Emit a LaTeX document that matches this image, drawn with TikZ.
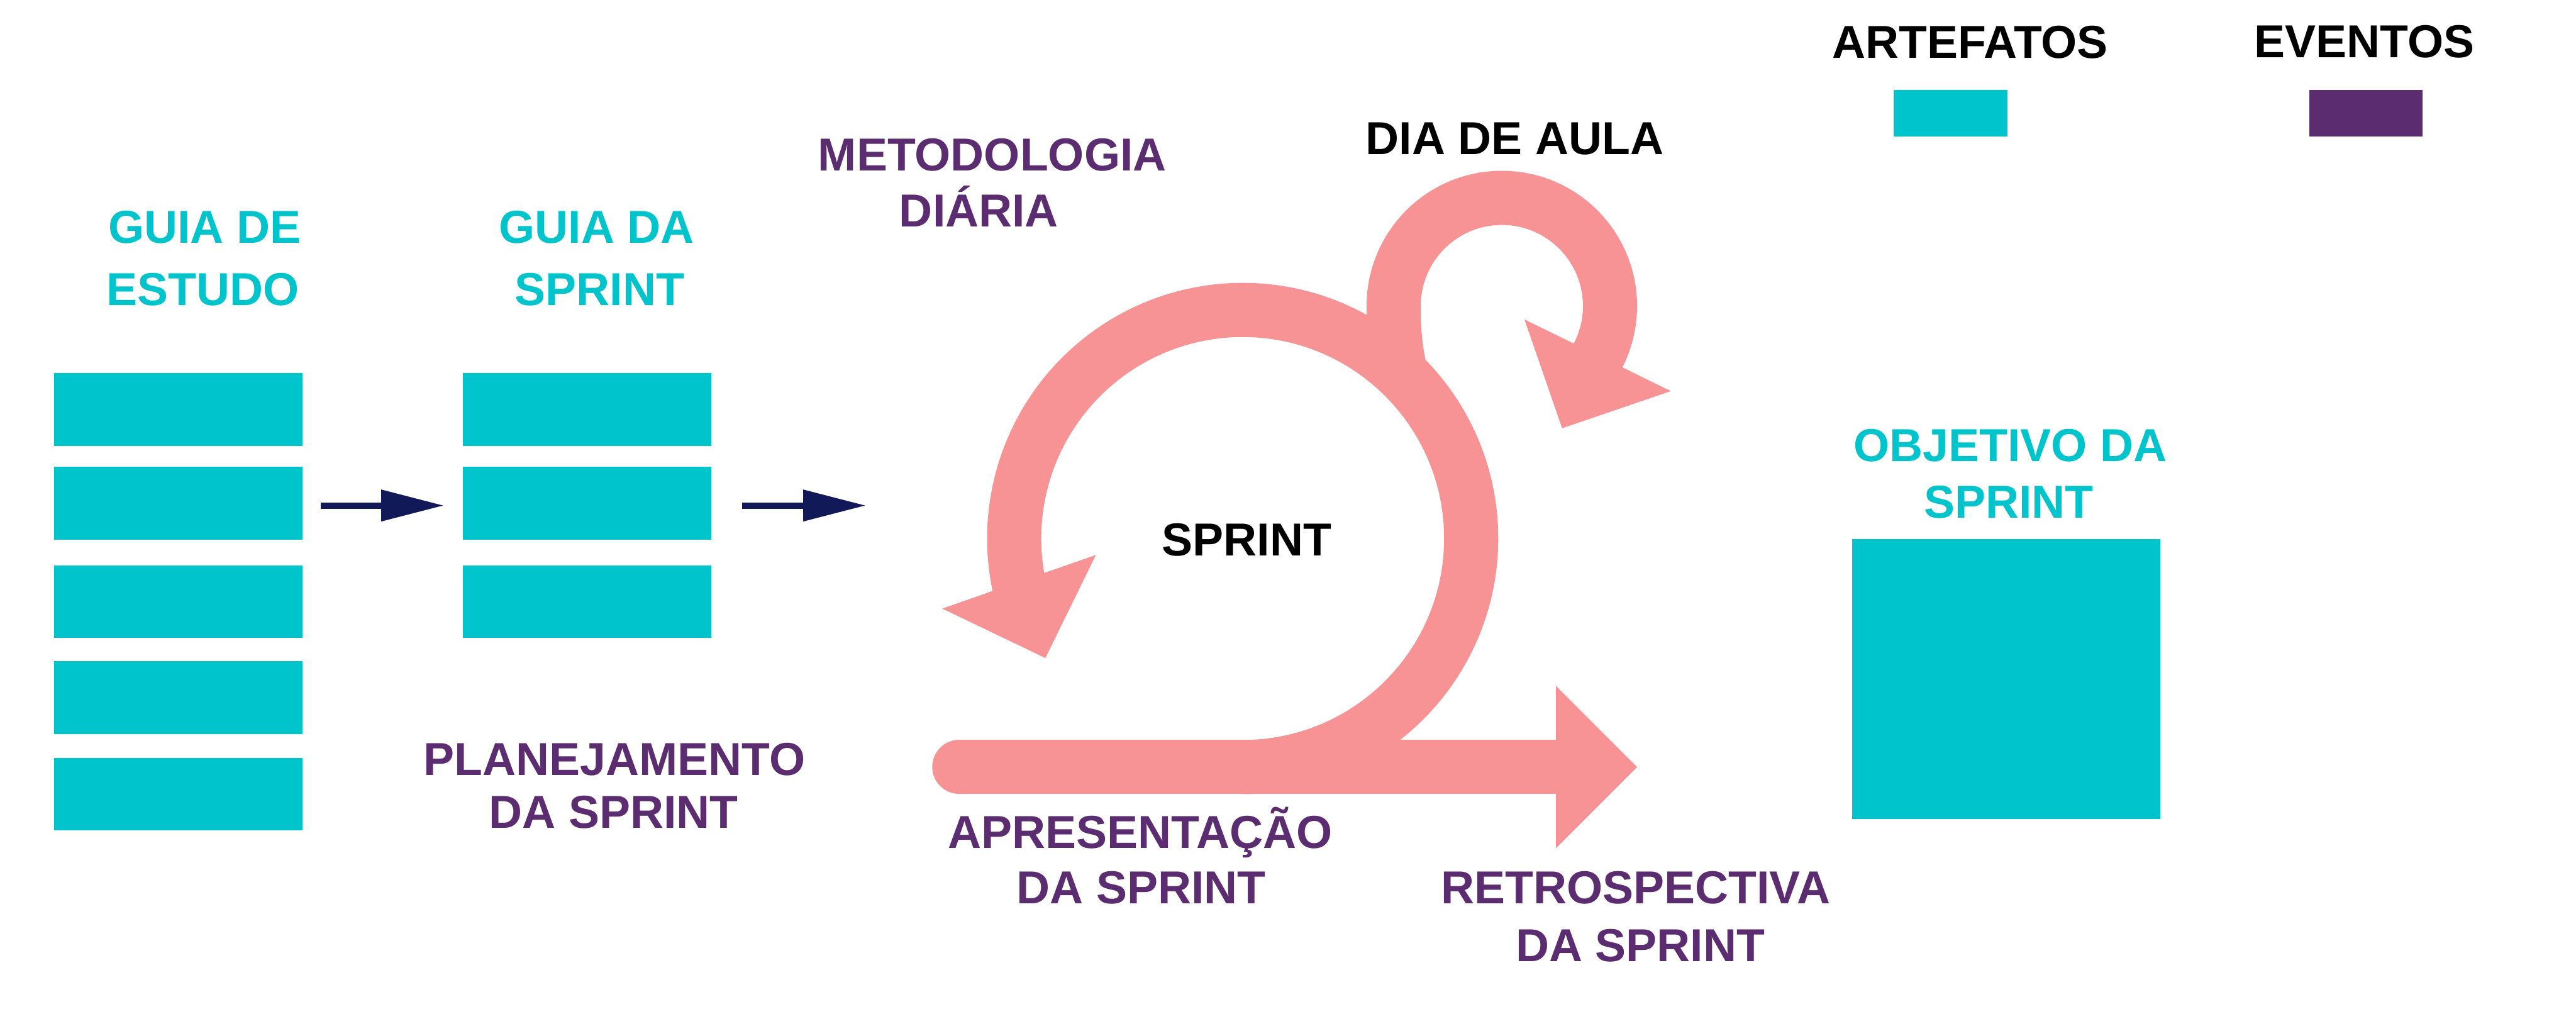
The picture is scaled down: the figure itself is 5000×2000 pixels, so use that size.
\documentclass[tikz,border=0pt]{standalone}
\usepackage{fontspec}
\setmainfont{Liberation Sans}
\definecolor{cyanc}{RGB}{0,196,204}
\definecolor{purplec}{RGB}{91,44,111}
\definecolor{pinkc}{RGB}{247,146,149}
\definecolor{navyc}{RGB}{17,25,89}
\tikzset{
  lbl/.style={anchor=base, inner sep=0pt, font=\fontsize{25.5}{30}\selectfont\bfseries},
  cyantxt/.style={lbl, text=cyanc},
  purpletxt/.style={lbl, text=purplec},
  blacktxt/.style={lbl, text=black},
  rowbox/.style={fill=cyanc, draw=none, inner sep=0pt, minimum width=4.82cm, minimum height=1.41cm},
  pinkband/.style={draw=pinkc, line width=1.05cm},
  pinkhead/.style={fill=pinkc, draw=none},
  navyshaft/.style={draw=navyc, line width=0.12cm},
  navyhead/.style={fill=navyc, draw=none}
}
\begin{document}
\begin{tikzpicture}[x=0.01cm, y=0.01cm]
\useasboundingbox[fill=white] (0,0) rectangle (5000,2000);

% legend
\node[blacktxt] (artefatos) at (3824,1887) {ARTEFATOS};
\node[blacktxt] (eventos) at (4589,1888) {EVENTOS};
\node[fill=cyanc, inner sep=0pt, minimum width=2.2cm, minimum height=0.9cm] (legart) at (3786,1780) {};
\node[fill=purplec, inner sep=0pt, minimum width=2.19cm, minimum height=0.9cm] (legev) at (4592.5,1780) {};

% guia de estudo
\node[cyantxt] (ge1) at (397,1528) {GUIA DE};
\node[cyantxt] (ge2) at (394,1407) {ESTUDO};
\node[rowbox] (e1) at (346,1205.5) {};
\node[rowbox] (e2) at (346,1023.5) {};
\node[rowbox] (e3) at (346,832.5) {};
\node[rowbox] (e4) at (346,646.5) {};
\node[rowbox] (e5) at (346,459) {};

% guia da sprint
\node[cyantxt] (gs1) at (1158,1528) {GUIA DA};
\node[cyantxt] (gs2) at (1164,1407) {SPRINT};
\node[rowbox] (s1) at (1139,1205.5) {};
\node[rowbox] (s2) at (1139,1023.5) {};
\node[rowbox] (s3) at (1139,832.5) {};

% navy arrows
\coordinate (a1s) at (622,1019);
\coordinate (a1b) at (741,1019);
\coordinate (a1t) at (860,1019);
\draw[navyshaft] (a1s) -- (a1b);
\fill[navyhead] (740,1050) -- (a1t) -- (740,988) -- cycle;
\coordinate (a2s) at (1441,1019);
\coordinate (a2b) at (1560,1019);
\coordinate (a2t) at (1679,1019);
\draw[navyshaft] (a2s) -- (a2b);
\fill[navyhead] (1559,1050) -- (a2t) -- (1559,988) -- cycle;

% sprint cycle
\coordinate (barstart) at (1862,511.5);
\coordinate (barend) at (3021,511.5);
\coordinate (bartip) at (3177.5,511.5);
\coordinate (cbottom) at (2412,511.5);
\draw[pinkband, line cap=round] (barstart) -- (barend);
\fill[pinkhead] (3020,669) -- (bartip) -- (3020,354) -- cycle;
\draw[pinkband] (cbottom) arc[start angle=-90, end angle=193, radius=443.5];
\fill[pinkhead] (1829,819) -- (2127,923) -- (2029,723) -- cycle;
% daily loop
\coordinate (dstart) at (2720,1270);
\draw[pinkband] (dstart) .. controls (2708,1320) and (2705,1360) .. (2705,1406)
  arc[start angle=180, end angle=-28, radius=210];
\fill[pinkhead] (2959,1380) -- (3243,1241) -- (3032,1169) -- cycle;

% labels around cycle
\node[purpletxt] (met1) at (1926,1668) {METODOLOGIA};
\node[purpletxt] (met2) at (1900,1560) {DIÁRIA};
\node[blacktxt] (dia) at (2940,1700) {DIA DE AULA};
\node[blacktxt] (sprint) at (2420,922) {SPRINT};
\node[purpletxt] (plan1) at (1193,495) {PLANEJAMENTO};
\node[purpletxt] (plan2) at (1191,393) {DA SPRINT};
\node[purpletxt] (apr1) at (2213,354) {APRESENTAÇÃO};
\node[purpletxt] (apr2) at (2215,246) {DA SPRINT};
\node[purpletxt] (ret1) at (3175,246) {RETROSPECTIVA};
\node[purpletxt] (ret2) at (3184,134) {DA SPRINT};

% objetivo
\node[cyantxt] (obj1) at (3902,1104) {OBJETIVO DA};
\node[cyantxt] (obj2) at (3899,995) {SPRINT};
\node[fill=cyanc, inner sep=0pt, minimum width=5.98cm, minimum height=5.43cm] (objbox) at (3894,682.5) {};
\end{tikzpicture}
\end{document}
